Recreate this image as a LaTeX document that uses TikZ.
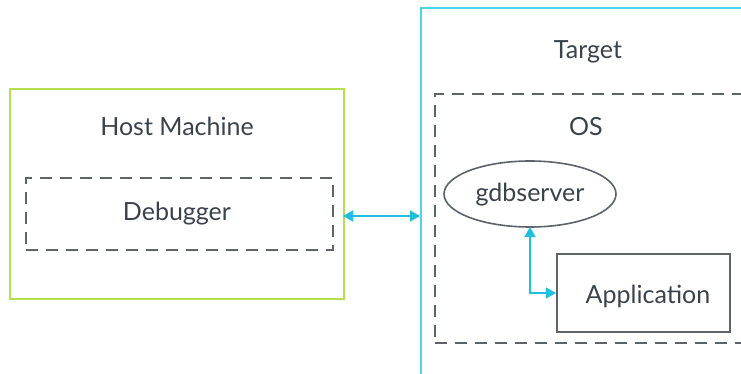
\documentclass[tikz,border=0pt]{standalone}
\usepackage{fontspec}
\setmainfont{Lato}
\usetikzlibrary{arrows.meta,shapes.geometric}
\definecolor{hostgreen}{HTML}{B4E04E}
\definecolor{tgtcyan}{HTML}{4DD3EA}
\definecolor{arrcyan}{HTML}{1EBFE0}
\definecolor{txtgray}{HTML}{3A424C}
\definecolor{dashgray}{HTML}{5C636B}
\tikzset{
  lbl/.style={text=txtgray, font=\fontsize{25}{30}\selectfont, inner sep=0pt},
  solidbox/.style={draw, line width=1.8pt, inner sep=0pt, anchor=north west},
  dashbox/.style={draw=dashgray, line width=1.6pt, dash pattern=on 12pt off 8pt, inner sep=0pt, anchor=north west},
  link/.style={draw=arrcyan, line width=1.5pt, {Triangle[length=10pt,width=11pt]}-{Triangle[length=10pt,width=11pt]}},
}
\begin{document}
\begin{tikzpicture}[x=1pt,y=-1pt]
\useasboundingbox (0,0) rectangle (741,374);
\clip (0,0) rectangle (741,374);
% Host machine
\node[solidbox, draw=hostgreen, minimum width=334pt, minimum height=210pt] (host) at (9,88) {};
\node[lbl] (hostlbl) at (177,126) {Host Machine};
\node[dashbox, minimum width=307pt, minimum height=72pt] (dbg) at (25,177) {};
\node[lbl] (dbglbl) at (177,214) {Debugger};
% Target
\node[solidbox, draw=tgtcyan, minimum width=360pt, minimum height=420pt] (tgt) at (420,7) {};
\node[lbl] (tgtlbl) at (588,52) {Target};
\node[dashbox, minimum width=330pt, minimum height=249pt] (os) at (434,93) {};
\node[lbl] (oslbl) at (586,127) {OS};
\node[draw=dashgray, line width=1.6pt, ellipse, minimum width=172pt, minimum height=66pt, inner sep=0pt] (gdb) at (530,194) {};
\node[lbl] (gdblbl) at (530,195) {gdbserver};
\node[solidbox, draw=dashgray, minimum width=173pt, minimum height=78pt] (app) at (556,253) {};
\node[lbl] (applbl) at (648,296) {Application};
% connectors
\coordinate (hostR) at (343,216);
\coordinate (tgtL) at (420,216);
\draw[link] (hostR) -- (tgtL);
\coordinate (gdbB) at (530,227);
\coordinate (appL) at (556,293);
\draw[link] (gdbB) |- (appL);
\end{tikzpicture}
\end{document}
